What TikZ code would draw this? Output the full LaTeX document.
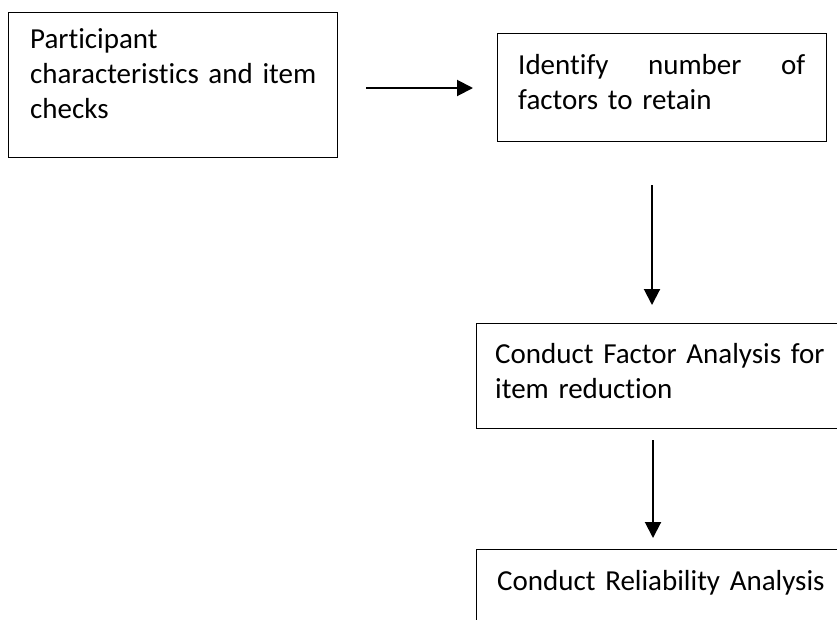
\documentclass[tikz,border=0pt]{standalone}
\usepackage{fontspec}
\setmainfont{Carlito}[Ligatures=NoCommon,RawFeature={-liga;-clig}]
\usetikzlibrary{arrows.meta}
\begin{document}
\begin{tikzpicture}[x=1pt,y=1pt,
  box/.style={draw=black, line width=1.4pt, rectangle, inner sep=0pt, anchor=north west},
  txt/.style={inner sep=0pt, anchor=base west, font=\fontsize{29}{35}\selectfont},
  arr/.style={line width=2pt, -{Triangle[length=16pt,width=16pt]}}]
\useasboundingbox (0,0) rectangle (837,-619);
\clip (0,0) rectangle (837,-619);
% boxes
\node[box, minimum width=329pt, minimum height=145pt] (b1) at (8,-12) {};
\node[box, minimum width=329pt, minimum height=108pt] (b2) at (497,-33) {};
\node[box, minimum width=400pt, minimum height=105pt] (b3) at (476,-323) {};
\node[box, minimum width=400pt, minimum height=110pt] (b4) at (476,-549) {};
% texts
\node[txt, text width=300pt, align=left] (t1) at (30,-48) {Participant\\characteristics and item\\checks};
\node[txt, text width=287pt] (t2) at (518,-74) {Identify\hfill number\hfill of\\factors to retain};
\node[txt, text width=340pt, align=left] (t3) at (495,-363) {Conduct Factor Analysis for\\item reduction};
\node[txt, text width=340pt, align=left] (t4) at (497,-590) {Conduct Reliability Analysis};
% connectors
\coordinate (a1s) at (366,-88);
\coordinate (a1e) at (473,-88);
\coordinate (a2s) at (652,-185);
\coordinate (a2e) at (652,-305);
\coordinate (a3s) at (653,-440);
\coordinate (a3e) at (653,-538);
\draw[arr] (a1s) -- (a1e);
\draw[arr] (a2s) -- (a2e);
\draw[arr] (a3s) -- (a3e);
\end{tikzpicture}
\end{document}
